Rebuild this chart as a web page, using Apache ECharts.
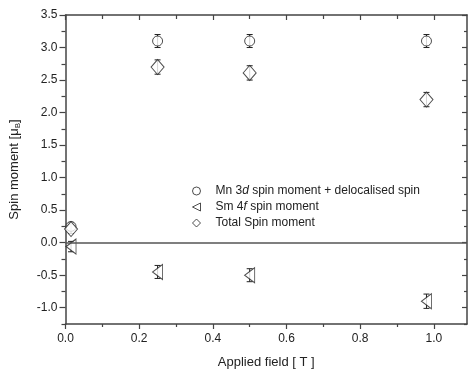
<!DOCTYPE html>
<html>
<head>
<meta charset="utf-8">
<script src="https://cdn.jsdelivr.net/npm/echarts@6/dist/echarts.min.js"></script>
<style>
html, body { margin: 0; padding: 0; background: #fff; }
#chart { width: 469px; height: 374px; }
</style>
</head>
<body>
<div id="chart"></div>
<script>
// applied field [T]
var fields = [0.015, 0.25, 0.5, 0.98];
// Mn 3d spin + delocalised spin
var mnSpin = [0.25, 3.1, 3.1, 3.1];
var mnErr = [0.06, 0.1, 0.1, 0.1];
// Sm 4f spin moment
var smSpin = [-0.06, -0.45, -0.5, -0.9];
var smErr = [0.08, 0.1, 0.1, 0.11];
// total
var totalSpin = [0.21, 2.7, 2.61, 2.2];
var totalErr = [0.07, 0.11, 0.11, 0.11];

var xMajor = [0, 0.2, 0.4, 0.6, 0.8, 1.0];
var xMinor = [0.1, 0.3, 0.5, 0.7, 0.9];
var yMajor = [-1.0, -0.5, 0, 0.5, 1.0, 1.5, 2.0, 2.5, 3.0, 3.5];
var yMinor = [-1.25, -0.75, -0.25, 0.25, 0.75, 1.25, 1.75, 2.25, 2.75, 3.25];

var names = ['Mn 3d spin moment + delocalised spin', 'Sm 4f spin moment', 'Total Spin moment'];

var axisCol = '#444';
var font = 'Liberation Sans, Arial, sans-serif';

function pts(v) {
    return fields.map(function (f, i) { return [f, v[i]]; });
}
function errPts(v, e) {
    return fields.map(function (f, i) { return [f, v[i] - e[i], v[i] + e[i]]; });
}

function errSeries(v, e) {
    return {
        type: 'custom',
        z: 1,
        silent: true,
        data: errPts(v, e),
        renderItem: function (params, api) {
            var x = api.value(0);
            var p1 = api.coord([x, api.value(1)]);
            var p2 = api.coord([x, api.value(2)]);
            var w = 3;
            var st = { stroke: '#222', lineWidth: 1 };
            return {
                type: 'group',
                children: [
                    { type: 'line', shape: { x1: p1[0], y1: p1[1], x2: p2[0], y2: p2[1] }, style: st },
                    { type: 'line', shape: { x1: p1[0] - w, y1: p1[1], x2: p1[0] + w, y2: p1[1] }, style: st },
                    { type: 'line', shape: { x1: p2[0] - w, y1: p2[1], x2: p2[0] + w, y2: p2[1] }, style: st }
                ]
            };
        }
    };
}

function xAx(pos, vals, len, inside, labels, line) {
    return {
        type: 'value', position: pos, min: 0, max: 1.09,
        axisLine: { show: line, onZero: false, lineStyle: { color: axisCol, width: 1.5 } },
        axisTick: { show: true, inside: inside, length: len, customValues: vals, lineStyle: { color: axisCol, width: 1.2 } },
        axisLabel: {
            show: labels, customValues: vals, color: '#222', fontSize: 12, fontFamily: font, margin: 9,
            formatter: function (v) { return v.toFixed(1); }
        },
        splitLine: { show: false }
    };
}
function yAx(pos, vals, len, inside, labels, line) {
    return {
        type: 'value', position: pos, min: -1.25, max: 3.5,
        axisLine: { show: line, onZero: false, lineStyle: { color: axisCol, width: 1.5 } },
        axisTick: { show: true, inside: inside, length: len, customValues: vals, lineStyle: { color: axisCol, width: 1.2 } },
        axisLabel: {
            show: labels, customValues: vals, color: '#222', fontSize: 12, fontFamily: font, margin: 8,
            formatter: function (v) { return v.toFixed(1); }
        },
        splitLine: { show: false }
    };
}

var xMain = xAx('bottom', xMajor, 5, false, true, true);
xMain.name = 'Applied field [ T ]';
xMain.nameLocation = 'middle';
xMain.nameGap = 32;
xMain.nameTextStyle = { color: '#222', fontSize: 13, fontFamily: font };

var yMain = yAx('left', yMajor, 6, false, true, true);
yMain.name = '{a|Spin moment [μ}{b|B}{a|]}';
yMain.nameLocation = 'middle';
yMain.nameGap = 44;
yMain.nameTextStyle = {
    color: '#222', fontFamily: font,
    rich: {
        a: { fontSize: 13, color: '#222', fontFamily: font },
        b: { fontSize: 8, color: '#222', fontFamily: font, verticalAlign: 'bottom', padding: [6, 0, 0, 0] }
    }
};

var legendIcon = {
    circle: 'circle',
    left: 'path://M10,0 L10,10 L0,5 Z',
    diamond: 'diamond'
};

var chart = echarts.init(document.getElementById('chart'));
var option = {
    animation: false,
    backgroundColor: '#fff',
    grid: { left: 64, right: 2, top: 15, bottom: 50 },
    legend: {
        orient: 'vertical',
        left: 192,
        top: 185,
        padding: 0,
        itemWidth: 8,
        itemHeight: 8,
        itemGap: 4,
        itemStyle: { color: '#fff', borderColor: '#222', borderWidth: 1 },
        data: [
            { name: names[0], icon: legendIcon.circle },
            { name: names[1], icon: legendIcon.left },
            { name: names[2], icon: legendIcon.diamond }
        ],
        textStyle: {
            color: '#222', fontSize: 12, fontFamily: font, padding: [0, 0, 0, 10],
            rich: {
                n: { fontSize: 12, color: '#222', fontFamily: font },
                i: { fontSize: 12, color: '#222', fontFamily: font, fontStyle: 'italic' }
            }
        },
        formatter: function (name) {
            if (name === names[0]) return '{n|Mn 3}{i|d}{n| spin moment + delocalised spin}';
            if (name === names[1]) return '{n|Sm 4}{i|f}{n| spin moment}';
            return '{n|' + name + '}';
        }
    },
    xAxis: [
        xMain,
        xAx('bottom', xMinor, 3, false, false, false),
        xAx('top', xMajor, 5, true, false, true),
        xAx('top', xMinor, 4, true, false, false)
    ],
    yAxis: [
        yMain,
        yAx('left', yMinor, 4, false, false, false),
        yAx('right', yMajor, 5, true, false, true),
        yAx('right', yMinor, 3, true, false, false)
    ],
    series: [
        errSeries(mnSpin, mnErr),
        errSeries(smSpin, smErr),
        errSeries(totalSpin, totalErr),
        {
            name: names[0], type: 'scatter', z: 3,
            symbol: 'circle', symbolSize: 10,
            itemStyle: { color: '#fff', borderColor: '#222', borderWidth: 1 },
            data: pts(mnSpin),
            markLine: {
                silent: true, symbol: 'none', label: { show: false },
                lineStyle: { color: '#555', width: 1.5, type: 'solid' },
                data: [{ yAxis: 0 }]
            }
        },
        {
            name: names[1], type: 'scatter', z: 3,
            symbol: 'triangle', symbolSize: [15, 10], symbolRotate: 90,
            itemStyle: { color: '#fff', borderColor: '#222', borderWidth: 1 },
            data: pts(smSpin)
        },
        {
            name: names[2], type: 'scatter', z: 3,
            symbol: 'diamond', symbolSize: [13, 15],
            itemStyle: { color: '#fff', borderColor: '#222', borderWidth: 1 },
            data: pts(totalSpin)
        }
    ]
};
chart.setOption(option);
</script>
</body>
</html>
